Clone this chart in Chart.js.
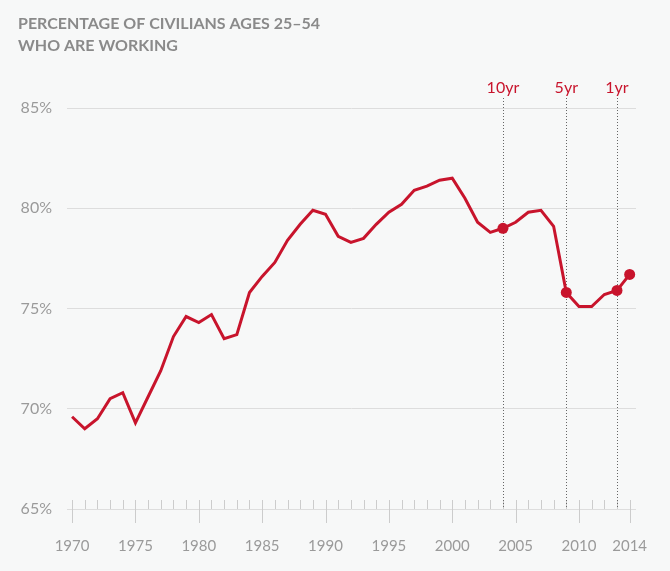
<!DOCTYPE html>
<html>
<head>
<meta charset="utf-8">
<script src="https://cdn.jsdelivr.net/npm/chart.js@4.4.1/dist/chart.umd.min.js"></script>
<style>
  body { margin: 0; background: #f7f8f8; }
  canvas { display: block; }
</style>
</head>
<body>
<canvas id="chart" width="670" height="571"></canvas>
<script>
const years = [1970,1971,1972,1973,1974,1975,1976,1977,1978,1979,1980,1981,1982,1983,1984,1985,1986,1987,1988,1989,1990,1991,1992,1993,1994,1995,1996,1997,1998,1999,2000,2001,2002,2003,2004,2005,2006,2007,2008,2009,2010,2011,2012,2013,2014];
const working = [69.6,69.0,69.5,70.5,70.8,69.3,70.6,71.9,73.6,74.6,74.3,74.7,73.5,73.7,75.8,76.6,77.3,78.4,79.2,79.9,79.7,78.6,78.3,78.5,79.2,79.8,80.2,80.9,81.1,81.4,81.5,80.5,79.3,78.8,79.0,79.3,79.8,79.9,79.1,75.8,75.1,75.1,75.7,75.9,76.7];
const markedYears = [2004, 2009, 2013];
const markedLabels = ['10yr', '5yr', '1yr'];
const dotYears = [2004, 2009, 2013, 2014];
const tickYears = [1970,1975,1980,1985,1990,1995,2000,2005,2010,2014];
const titleLines = ['PERCENTAGE OF CIVILIANS AGES 25–54', 'WHO ARE WORKING'];

const red = '#c8142c';
const font = 'Lato, "Open Sans", sans-serif';

// title, dotted markers and the year ticks on the axis
const extras = {
    id: 'extras',
    beforeDatasetsDraw: (chart) => {
        const ctx = chart.ctx;
        const x = chart.scales.x, y = chart.scales.y;
        const base = y.getPixelForValue(65);
        ctx.save();
        ctx.strokeStyle = '#cccccc';
        ctx.lineWidth = 1;
        for (let yr = 1970; yr <= 2014; yr++) {
            const px = Math.round(x.getPixelForValue(yr)) + 0.5;
            const major = tickYears.includes(yr);
            ctx.beginPath();
            ctx.moveTo(px, base - 9);
            ctx.lineTo(px, major ? base + 14 : base);
            ctx.stroke();
        }
        ctx.strokeStyle = '#666666';
        ctx.setLineDash([1, 2]);
        markedYears.forEach((yr, i) => {
            const px = Math.round(x.getPixelForValue(yr)) + 0.5;
            ctx.beginPath();
            ctx.moveTo(px, 98);
            ctx.lineTo(px, base);
            ctx.stroke();
        });
        ctx.setLineDash([]);
        ctx.fillStyle = red;
        ctx.font = '16px ' + font;
        ctx.textAlign = 'center';
        ctx.textBaseline = 'alphabetic';
        markedYears.forEach((yr, i) => {
            ctx.fillText(markedLabels[i], x.getPixelForValue(yr), 93);
        });
        ctx.fillStyle = '#8a8a8a';
        ctx.font = 'bold 16px ' + font;
        ctx.textAlign = 'left';
        titleLines.forEach((t, i) => {
            ctx.fillText(t, 18, 29 + i * 22);
        });
        ctx.restore();
    }
};

new Chart(document.getElementById('chart'), {
    type: 'line',
    data: {
        datasets: [{
            data: years.map((yr, i) => ({ x: yr, y: working[i] })),
            borderColor: red,
            backgroundColor: red,
            borderWidth: 3,
            tension: 0,
            pointRadius: years.map(yr => dotYears.includes(yr) ? 5.5 : 0),
            pointHoverRadius: 0,
            pointBorderWidth: 0
        }]
    },
    options: {
        responsive: false,
        animation: false,
        layout: { padding: { top: 108, right: 34, left: 0, bottom: 0 } },
        plugins: {
            legend: { display: false },
            tooltip: { enabled: false }
        },
        scales: {
            x: {
                type: 'linear',
                min: 1969.6,
                max: 2014.5,
                afterBuildTicks: (scale) => {
                    scale.ticks = tickYears.map(v => ({ value: v }));
                },
                afterFit: (scale) => { scale.height = 62; },
                grid: { display: false },
                border: { display: false },
                ticks: {
                    autoSkip: false,
                    maxRotation: 0,
                    padding: 20,
                    color: '#9a9a9a',
                    font: { family: font, size: 15 },
                    callback: (v) => String(v)
                }
            },
            y: {
                min: 65,
                max: 85,
                afterFit: (scale) => { scale.width = 67; },
                grid: { color: '#dddddd', drawTicks: false },
                border: { display: false },
                ticks: {
                    stepSize: 5,
                    padding: 15,
                    color: '#9a9a9a',
                    font: { family: font, size: 16 },
                    callback: (v) => v + '%'
                }
            }
        }
    },
    plugins: [extras]
});
</script>
</body>
</html>
